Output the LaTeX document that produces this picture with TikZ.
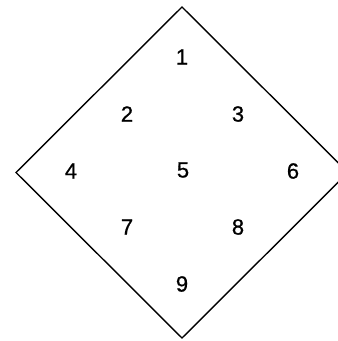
\documentclass[tikz,border=0pt]{standalone}
\usepackage{fontspec}
\setmainfont{Liberation Sans}
\newfontfamily\numfont[FakeBold=0.8]{Liberation Sans}
\begin{document}
\begin{tikzpicture}[x=1pt,y=-1pt,
  num/.style={font=\numfont\fontsize{22}{26}\selectfont, inner sep=0pt},
  edge/.style={line width=1.4pt, line join=miter}]
\useasboundingbox (0,0) rectangle (338,341);
\clip (0,0) rectangle (338,341);
\coordinate (T) at (182,7);
\coordinate (L) at (16,172.5);
\coordinate (R) at (348,172.5);
\coordinate (B) at (182,338);
\draw[edge] (T) -- (R) -- (B) -- (L) -- cycle;
\node[num] (n1) at (182,57) {1};
\node[num] (n2) at (127,114) {2};
\node[num] (n3) at (238,114) {3};
\node[num] (n4) at (71,171) {4};
\node[num] (n5) at (183,170) {5};
\node[num] (n6) at (293,171) {6};
\node[num] (n7) at (127,227) {7};
\node[num] (n8) at (238,227) {8};
\node[num] (n9) at (182,284) {9};
\end{tikzpicture}
\end{document}
